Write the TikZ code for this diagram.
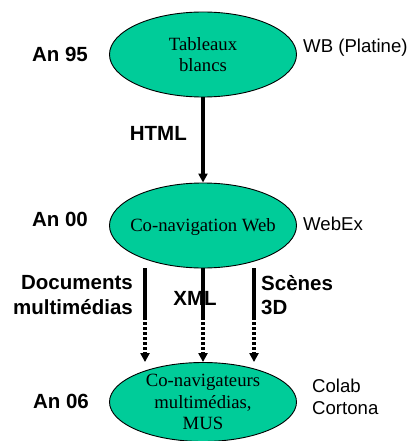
\documentclass[tikz,border=0pt]{standalone}
\usepackage{fontspec}
\setmainfont{Liberation Serif}
\setsansfont{Liberation Sans}
\usetikzlibrary{arrows.meta,calc,shapes.geometric}
\definecolor{ovalgreen}{RGB}{0,204,153}
\begin{document}
\begin{tikzpicture}[x=1pt,y=-1pt,
  oval/.style={ellipse,draw=black,line width=0.9pt,fill=ovalgreen,minimum width=187pt,minimum height=85pt,inner sep=0pt,align=center,font=\fontsize{18.7}{21.7}\selectfont},
  yearlbl/.style={font=\sffamily\bfseries\fontsize{20.5}{24.6}\selectfont,inner sep=0pt,anchor=base},
  toollbl/.style={font=\sffamily\fontsize{18.6}{22.3}\selectfont,inner sep=0pt},
  linklbl/.style={font=\sffamily\bfseries\fontsize{20.5}{24.6}\selectfont,inner sep=0pt},
  connarrow/.style={line width=3.1pt,-{Triangle[width=9pt,length=9pt]}},
  conn/.style={line width=3.1pt},
  dotconn/.style={line width=3.1pt,dash pattern=on 3pt off 2pt,-{Triangle[width=9pt,length=9pt]}}]
\useasboundingbox (0,0) rectangle (411,441);
\node[oval] (e1) at (203,54.5) {Tableaux\\blancs};
\node[oval,text depth=0pt,inner xsep=-10pt] (e2) at (203,225.5) {Co-navigation Web};
\node[oval,minimum height=79pt,inner ysep=-3pt] (e3) at (203,402) {Co-navigateurs\\multimédias,\\MUS};
\node[yearlbl] (y95) at (60,62) {An 95};
\node[yearlbl] (y00) at (60,226) {An 00};
\node[yearlbl] (y06) at (61,408) {An 06};
\node[toollbl,anchor=base west] (wb) at (303,53) {WB (Platine)};
\node[toollbl,anchor=base west] (webex) at (303,230) {WebEx};
\node[toollbl,anchor=west,align=left] (colab) at (312,397) {Colab\\Cortona};
\node[linklbl,anchor=base east] (html) at (187,140) {HTML};
\node[linklbl,anchor=east,align=right] (docs) at (133,295) {Documents\\multimédias};
\node[linklbl,anchor=base] (xml) at (195,305) {XML};
\node[linklbl,anchor=west,align=left] (scenes) at (261,295) {Scènes\\3D};
\draw[connarrow] (e1.south) -- (e2.north);
\coordinate (l1) at ($(e2.south)+(-58,0)$);
\coordinate (l2) at ($(e2.south)+(-58,49)$);
\coordinate (l3) at (l2 |- e3.north);
\coordinate (m1) at (e2.south);
\coordinate (m2) at ($(e2.south)+(0,49)$);
\coordinate (r1) at ($(e2.south)+(51,0)$);
\coordinate (r2) at ($(e2.south)+(51,49)$);
\coordinate (r3) at (r2 |- e3.north);
\draw[conn] (l1) -- (l2);
\draw[dotconn] (l2) -- (l3);
\draw[conn] (m1) -- (m2);
\draw[dotconn] (m2) -- (e3.north);
\draw[conn] (r1) -- (r2);
\draw[dotconn] (r2) -- (r3);
\end{tikzpicture}
\end{document}
